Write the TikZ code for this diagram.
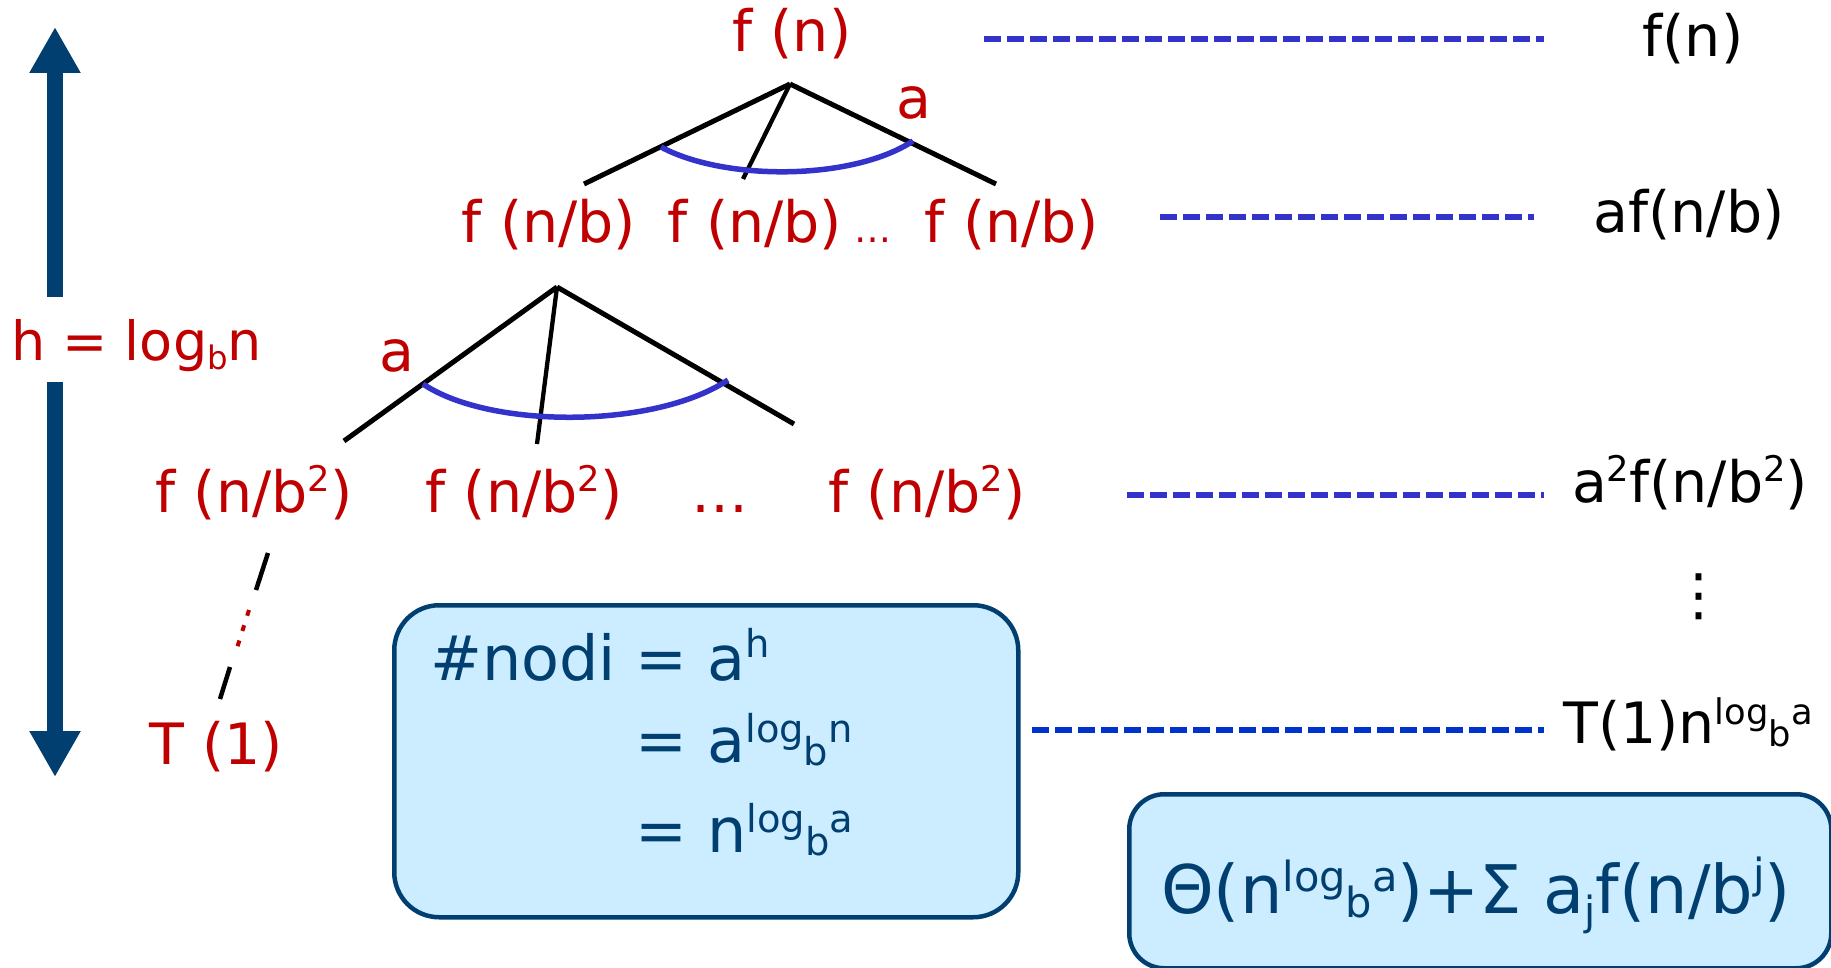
\documentclass[tikz,border=0pt]{standalone}
\usepackage{fontspec}
\setmainfont{DejaVu Sans}
\usetikzlibrary{arrows.meta}
\definecolor{tred}{RGB}{192,0,0}
\definecolor{navy}{RGB}{0,63,112}
\definecolor{boxfill}{RGB}{204,236,255}
\definecolor{dashblue}{RGB}{51,51,204}
\definecolor{dashbluetwo}{RGB}{0,51,204}
\newcommand\spp[1]{\raisebox{0.36em}{\scalebox{0.62}{#1}}}
\newcommand\sbb[1]{\raisebox{-0.18em}{\scalebox{0.6}{#1}}}
\newcommand\lgb[1]{\raisebox{0.32em}{\scalebox{0.62}{log}}\raisebox{-0.06em}{\scalebox{0.62}{b}}\raisebox{0.32em}{\scalebox{0.62}{#1}}}
\begin{document}
\begin{tikzpicture}[x=1pt,y=-1pt,
  treetxt/.style={text=tred,font=\fontsize{57}{62}\selectfont,inner sep=0pt,anchor=base},
  rtxt/.style={text=black,font=\fontsize{57}{62}\selectfont,inner sep=0pt,anchor=base},
  boxtxt/.style={text=navy,font=\fontsize{62}{66}\selectfont,inner sep=0pt,anchor=base west},
  edge/.style={line width=5pt},
  arcln/.style={draw=dashblue,line width=5.5pt},
  dashln/.style={draw=dashblue,line width=6pt,dash pattern=on 17pt off 6pt},
  bigarrow/.style={draw=navy,line width=16pt,-{Triangle[width=48pt,length=46pt]}},
  infobox/.style={draw=navy,fill=boxfill,line width=4.5pt,rounded corners=45pt,inner sep=0pt}
]
\fill[white] (0,0) rectangle (1831,968);
\useasboundingbox (0,0) rectangle (1831,968);
\clip (0,0) rectangle (1831,968);

% height arrow
\node[treetxt,anchor=base west,font=\fontsize{54}{60}\selectfont] (h) at (11,360) {h = log\sbb{b}n};
\coordinate (aup0) at (55,297);
\coordinate (aup1) at (55,27);
\coordinate (adn0) at (55,382);
\coordinate (adn1) at (55,777);
\draw[bigarrow] (aup0) -- (aup1);
\draw[bigarrow] (adn0) -- (adn1);

% level 0
\node[treetxt] (r0) at (792,52) {f (n)};
\coordinate (root1) at (790,84);
\coordinate (c11) at (584,184);
\coordinate (c12) at (743,179);
\coordinate (c13) at (996,184);
\draw[edge] (root1) -- (c11);
\draw[edge,line width=4.3pt] (root1) -- (c12);
\draw[edge] (root1) -- (c13);
\draw[arcln] (661,147) .. controls (724,181) and (852,181) .. (913,141);
\node[treetxt] (a1) at (914,119) {a};

% level 1
\node[treetxt] (n11) at (549,243) {f (n/b)};
\node[treetxt] (n12) at (755,243) {f (n/b)};
\node[treetxt] (d1) at (873,243) {\scalebox{0.65}{…}};
\node[treetxt] (n13) at (1012,243) {f (n/b)};
\coordinate (root2) at (557,287);
\coordinate (c21) at (344,441);
\coordinate (c22) at (537,444);
\coordinate (c23) at (794,424);
\draw[edge] (root2) -- (c21);
\draw[edge,line width=4.3pt] (root2) -- (c22);
\draw[edge] (root2) -- (c23);
\draw[arcln] (423,384) .. controls (490,429) and (654,429) .. (728,380);
\node[treetxt] (a2) at (397,371) {a};

% level 2
\node[treetxt] (n21) at (254,512) {f (n/b\spp{2})};
\node[treetxt] (n22) at (524,512) {f (n/b\spp{2})};
\node[treetxt] (d2) at (720,512) {…};
\node[treetxt] (n23) at (927,512) {f (n/b\spp{2})};

% down to leaves
\coordinate (p1) at (268,553);
\coordinate (p2) at (256,590);
\coordinate (p3) at (249,610);
\coordinate (p4) at (237,648);
\coordinate (p5) at (230,667);
\coordinate (p6) at (220,699);
\draw[edge,line width=4.5pt] (p1) -- (p2);
\draw[tred,line width=4pt,dash pattern=on 6pt off 10pt] (p3) -- (p4);
\draw[edge,line width=4.5pt] (p5) -- (p6);
\node[treetxt] (t1) at (216,764) {T (1)};

% level sums
\node[rtxt] (rf0) at (1693,57) {f(n)};
\node[rtxt] (rf1) at (1689,233) {af(n/b)};
\node[rtxt] (rf2) at (1690,502) {a\spp{2}f(n/b\spp{2})};
\node[rtxt,anchor=center] (rdots) at (1699,597) {⋮};
\node[rtxt] (rf3) at (1688,743) {T(1)n\lgb{a}};

\coordinate (l0a) at (984,39);  \coordinate (l0b) at (1544,39);
\coordinate (l1a) at (1160,217); \coordinate (l1b) at (1534,217);
\coordinate (l2a) at (1127,495); \coordinate (l2b) at (1544,495);
\coordinate (l3a) at (1032,730); \coordinate (l3b) at (1544,730);
\draw[dashln] (l0a) -- (l0b);
\draw[dashln] (l1a) -- (l1b);
\draw[dashln] (l2a) -- (l2b);
\draw[dashln,draw=dashbluetwo] (l3a) -- (l3b);

% boxes
\node[infobox,minimum width=624pt,minimum height=312pt,anchor=north west] (box1) at (392,603) {};
\node[boxtxt] (b1l1) at (430,680) {\#nodi = a\spp{h}};
\node[boxtxt] (b1l2) at (430,762) {\phantom{\#nodi} = a\lgb{n}};
\node[boxtxt] (b1l3) at (430,852) {\phantom{\#nodi} = n\lgb{a}};

\node[infobox,rounded corners=35pt,minimum width=702pt,minimum height=174pt,anchor=north west] (box2) at (1127,792) {};
\node[text=navy,font=\fontsize{67}{72}\selectfont,inner sep=0pt,anchor=base] (b2t) at (1476,913) {Θ(n\lgb{a})+Σ a\sbb{j}f(n/b\spp{j})};
\end{tikzpicture}
\end{document}
